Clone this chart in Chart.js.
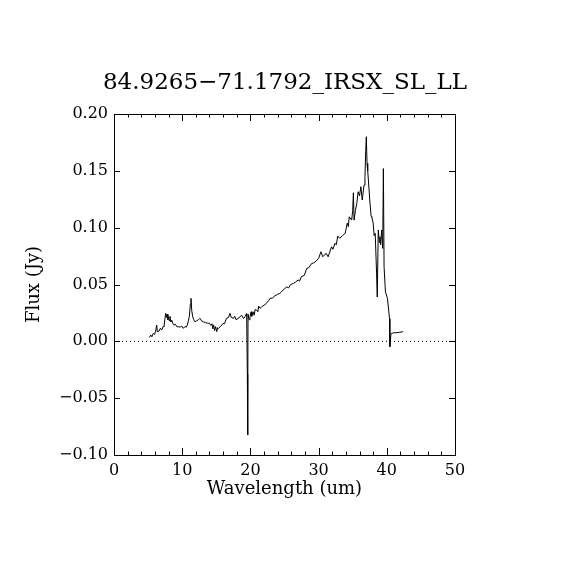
<!DOCTYPE html>
<html lang="en">
<head>
<meta charset="UTF-8">
<title>84.9265-71.1792_IRSX_SL_LL</title>
<script src="https://cdn.jsdelivr.net/npm/chart.js"></script>
<style>
  body { margin: 0; background: #fff; }
  canvas { display: block; }
</style>
</head>
<body>
<canvas id="spec" width="570" height="570"></canvas>
<script>
// spectrum (wavelength in um, flux in Jy)
const wavelength = [
  5.18, 5.4, 5.55, 5.77, 5.95, 6.1, 6.26, 6.35, 6.6, 6.8, 7.0, 7.2, 7.33, 7.45, 7.58, 7.7, 7.8, 7.9, 7.97, 8.1,
  8.2, 8.35, 8.46, 8.6, 8.8, 9.0, 9.2, 9.43, 9.7, 9.9, 10.16, 10.4, 10.6, 10.75, 10.9, 11.04, 11.2, 11.29, 11.4, 11.54,
  11.7, 11.88, 12.1, 12.4, 12.6, 12.85, 13.1, 13.4, 13.7, 14.0, 14.2, 14.35, 14.5, 14.6, 14.75, 14.9, 15.06, 15.2, 15.3, 15.6,
  16.0, 16.2, 16.5, 16.8, 17.0, 17.2, 17.5, 17.7, 17.9, 18.2, 18.5, 18.7, 19.0, 19.2, 19.45, 19.55, 19.6, 19.65, 19.8, 19.94,
  20.1, 20.2, 20.4, 20.55, 20.7, 20.9, 21.1, 21.2, 21.4, 21.6, 21.8, 22.1, 22.4, 22.7, 22.87, 23.2, 23.6, 24.0, 24.3, 24.6,
  25.0, 25.3, 25.6, 25.9, 26.3, 26.6, 27.0, 27.2, 27.5, 27.9, 28.25, 28.6, 29.0, 29.3, 29.7, 30.0, 30.35, 30.6, 30.9, 31.1,
  31.4, 31.9, 32.1, 32.4, 32.6, 32.8, 33.1, 33.5, 33.9, 34.2, 34.35, 34.5, 34.85, 35.0, 35.1, 35.2, 35.4, 35.6, 35.8, 36.0,
  36.2, 36.4, 36.66, 36.8, 36.9, 37.0, 37.1, 37.2, 37.3, 37.5, 37.7, 37.8, 38.0, 38.15, 38.3, 38.5, 38.6, 38.75, 38.9, 39.0,
  39.1, 39.25, 39.4, 39.5, 39.6, 39.8, 40.1, 40.4, 40.45, 40.6, 40.7, 41.0, 41.45, 41.9, 42.4
];
const flux = [
  0.0035, 0.0055, 0.004, 0.007, 0.006, 0.009, 0.0143, 0.0085, 0.009, 0.0115, 0.010, 0.013, 0.0128, 0.019, 0.0246, 0.021, 0.024, 0.019, 0.0216, 0.018,
  0.022, 0.017, 0.0187, 0.016, 0.0143, 0.015, 0.013, 0.0128, 0.0125, 0.0135, 0.0114, 0.013, 0.0125, 0.0143, 0.018, 0.0216, 0.033, 0.0378, 0.027, 0.0216,
  0.019, 0.0172, 0.018, 0.019, 0.0202, 0.018, 0.0172, 0.0165, 0.016, 0.0158, 0.014, 0.0155, 0.011, 0.0145, 0.0095, 0.013, 0.0085, 0.012, 0.0114, 0.013,
  0.0158, 0.0155, 0.0202, 0.021, 0.0246, 0.021, 0.0202, 0.022, 0.019, 0.0202, 0.0216, 0.023, 0.020, 0.0216, 0.0246, -0.029, -0.0824, 0.024, 0.019, 0.0216,
  0.026, 0.022, 0.026, 0.023, 0.028, 0.0275, 0.026, 0.031, 0.029, 0.030, 0.031, 0.032, 0.034, 0.036, 0.0378, 0.038, 0.040, 0.0415, 0.042, 0.044,
  0.046, 0.048, 0.047, 0.050, 0.051, 0.052, 0.054, 0.053, 0.057, 0.058, 0.064, 0.065, 0.0686, 0.069, 0.071, 0.073, 0.0788, 0.0745, 0.0759, 0.0775,
  0.0744, 0.0832, 0.081, 0.0862, 0.085, 0.0926, 0.0906, 0.093, 0.095, 0.104, 0.101, 0.1096, 0.1067, 0.115, 0.1307, 0.1067, 0.115, 0.1214, 0.1316, 0.128,
  0.136, 0.1243, 0.1375, 0.145, 0.1668, 0.180, 0.1566, 0.150, 0.142, 0.1243, 0.110, 0.1096, 0.104, 0.093, 0.095, 0.060, 0.039, 0.098, 0.087, 0.092,
  0.085, 0.098, 0.0818, 0.152, 0.0656, 0.0436, 0.0378, 0.020, -0.0047, 0.006, 0.007, 0.0075, 0.0076, 0.008, 0.0085
];
const xTicks = [0, 10, 20, 30, 40, 50];
const yTicks = [-0.10, -0.05, 0.00, 0.05, 0.10, 0.15, 0.20];
const titleText = '84.9265\u221271.1792_IRSX_SL_LL';

const FONT = "'DejaVu Serif', 'Liberation Serif', serif";
const minus = s => s.replace('-', '\u2212');

// IDL style: box all round, ticks pointing inward
const inwardTicks = {
  id: 'inwardTicks',
  afterDraw(chart) {
    const { ctx, chartArea: a, scales: { x, y } } = chart;
    ctx.save();
    ctx.strokeStyle = '#000';
    ctx.lineWidth = 1;
    ctx.beginPath();
    ctx.rect(Math.round(a.left) + 0.5, Math.round(a.top) + 0.5, Math.round(a.right - a.left), Math.round(a.bottom - a.top));
    for (let v = 0; v <= 50; v += 2) {
      const px = Math.round(x.getPixelForValue(v)) + 0.5;
      const len = v % 10 === 0 ? 7 : 3.5;
      ctx.moveTo(px, a.bottom); ctx.lineTo(px, a.bottom - len);
      ctx.moveTo(px, a.top); ctx.lineTo(px, a.top + len);
    }
    yTicks.forEach(v => {
      const py = Math.round(y.getPixelForValue(v)) + 0.5;
      ctx.moveTo(a.left, py); ctx.lineTo(a.left + 6, py);
      ctx.moveTo(a.right, py); ctx.lineTo(a.right - 6, py);
    });
    ctx.stroke();
    ctx.restore();
  }
};

new Chart(document.getElementById('spec'), {
  type: 'scatter',
  data: {
    datasets: [
      {
        data: wavelength.map((w, i) => ({ x: w, y: flux[i] })),
        showLine: true,
        borderColor: '#000',
        borderWidth: 1,
        pointRadius: 0,
        tension: 0
      },
      {
        data: [{ x: 0, y: 0 }, { x: 50, y: 0 }],
        showLine: true,
        borderColor: '#000',
        borderWidth: 1,
        borderDash: [1, 3],
        pointRadius: 0
      }
    ]
  },
  options: {
    responsive: false,
    animation: false,
    events: [],
    layout: { padding: 0 },
    plugins: {
      legend: { display: false },
      tooltip: { enabled: false },
      title: {
        display: true,
        text: titleText,
        color: '#000',
        font: { family: FONT, size: 23, weight: 'normal', lineHeight: 1.2 },
        padding: { top: 69.2, bottom: 17.2 }
      }
    },
    scales: {
      x: {
        type: 'linear',
        min: 0, max: 50,
        afterFit(s) { s.height = 115; },
        afterBuildTicks(s) { s.ticks = xTicks.map(v => ({ value: v })); },
        grid: { display: true, drawOnChartArea: false, drawTicks: false },
        border: { display: true, color: '#000', width: 1 },
        ticks: { color: '#000', padding: 6, maxRotation: 0, font: { family: FONT, size: 16 }, callback: v => String(v) },
        title: { display: true, text: 'Wavelength (um)', color: '#000', font: { family: FONT, size: 18 }, padding: { top: 4, bottom: 70 } }
      },
      y: {
        type: 'linear',
        min: -0.10, max: 0.20,
        afterFit(s) { s.width = 114; },
        afterBuildTicks(s) { s.ticks = yTicks.map(v => ({ value: v })); },
        grid: { display: true, drawOnChartArea: false, drawTicks: false },
        border: { display: true, color: '#000', width: 1 },
        ticks: { color: '#000', padding: 6, font: { family: FONT, size: 16 }, callback: v => minus(v.toFixed(2)) },
        title: { display: true, text: 'Flux (Jy)', color: '#000', font: { family: FONT, size: 18 }, padding: { top: 24, bottom: 0 } }
      },
      // empty right margin so the plot box stays square and the title centred
      yRight: {
        type: 'linear',
        position: 'right',
        display: true,
        afterFit(s) { s.width = 115; },
        grid: { display: false },
        border: { display: false },
        ticks: { display: false }
      }
    }
  },
  plugins: [inwardTicks]
});
</script>
</body>
</html>
